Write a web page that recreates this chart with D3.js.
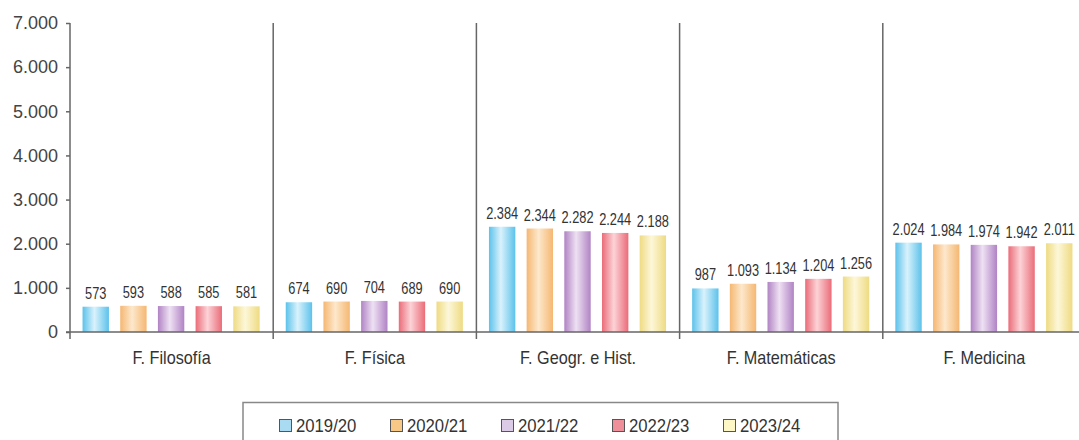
<!DOCTYPE html>
<html>
<head>
<meta charset="utf-8">
<script src="https://cdn.jsdelivr.net/npm/d3@7"></script>
<style>
  body { margin: 0; background: #fff; }
  svg { display: block; }
</style>
</head>
<body>
<div id="chart"></div>
<script>
const categories = ["F. Filosofía", "F. Física", "F. Geogr. e Hist.", "F. Matemáticas", "F. Medicina"];
const years = ["2019/20", "2020/21", "2021/22", "2022/23", "2023/24"];
const s2019 = [573, 674, 2384, 987, 2024];
const s2020 = [593, 690, 2344, 1093, 1984];
const s2021 = [588, 704, 2282, 1134, 1974];
const s2022 = [585, 689, 2244, 1204, 1942];
const s2023 = [581, 690, 2188, 1256, 2011];
const yTicks = [0, 1000, 2000, 3000, 4000, 5000, 6000, 7000];

const series = [s2019, s2020, s2021, s2022, s2023];

const options = { width: 1079, height: 440 };
const plot = { left: 70, right: 1086, top: 23, bottom: 332 };
const font = "Liberation Sans, Arial, sans-serif";

// edge / centre colours for the cylinder look, plus flat legend colours
const palette = [
  { edge: "#5cc2eb", mid: "#d9f2fc", key: "#a9dcf3" },
  { edge: "#f5b772", mid: "#fde8cc", key: "#f8c886" },
  { edge: "#b083c4", mid: "#eee1f3", key: "#dccbe6" },
  { edge: "#ea6c78", mid: "#fcd3d7", key: "#ef8f99" },
  { edge: "#eedb82", mid: "#fdf7d9", key: "#fdf7c6" }
];

const numFmt = d3.formatLocale({ decimal: ",", thousands: ".", grouping: [3] }).format(",");

const svg = d3.select("#chart").append("svg")
  .attr("width", options.width)
  .attr("height", options.height);

const defs = svg.append("defs");
palette.forEach((p, i) => {
  const g = defs.append("linearGradient").attr("id", "grad" + i)
    .attr("x1", "0%").attr("x2", "100%").attr("y1", "0%").attr("y2", "0%");
  g.append("stop").attr("offset", "0%").attr("stop-color", p.edge);
  g.append("stop").attr("offset", "45%").attr("stop-color", p.mid);
  g.append("stop").attr("offset", "100%").attr("stop-color", p.edge);
});

const y = d3.scaleLinear().domain([0, 7000]).range([plot.bottom, plot.top]);

const x0 = d3.scaleBand().domain(categories).range([plot.left, plot.right]);

const x1 = d3.scaleBand().domain(years)
  .range([2, x0.bandwidth() - 3])
  .paddingInner(0.3)
  .paddingOuter(0.28);

// y axis
const yAxis = svg.append("g")
  .attr("transform", `translate(${plot.left},0)`)
  .call(d3.axisLeft(y).tickValues(yTicks).tickSize(4).tickPadding(8)
    .tickFormat(d => d === 0 ? "0" : numFmt(d)));
yAxis.select(".domain").remove();
yAxis.selectAll(".tick line").attr("stroke", "#666").attr("stroke-width", 1.5);
yAxis.selectAll(".tick text")
  .attr("fill", "#444")
  .style("font-family", font)
  .style("font-size", "18px");

// group dividers (including y axis line)
svg.append("g").selectAll("line")
  .data(categories.map(c => x0(c)))
  .join("line")
  .attr("x1", d => d).attr("x2", d => d)
  .attr("y1", plot.top).attr("y2", plot.bottom + 7)
  .attr("stroke", "#666")
  .attr("stroke-width", 1.5);

// bars
const groups = svg.append("g").selectAll("g")
  .data(categories)
  .join("g")
  .attr("transform", d => `translate(${x0(d)},0)`);

const cells = (c, ci) => years.map((yr, si) => ({ yr, si, v: series[si][ci] }));

groups.selectAll("rect")
  .data(cells)
  .join("rect")
  .attr("x", d => x1(d.yr))
  .attr("y", d => y(d.v))
  .attr("width", x1.bandwidth())
  .attr("height", d => y(0) - y(d.v))
  .attr("fill", d => `url(#grad${d.si})`);

// narrow-looking labels: regular sans squeezed horizontally
groups.selectAll("text.val")
  .data(cells)
  .join("text")
  .attr("class", "val")
  .attr("transform", d => `translate(${x1(d.yr) + x1.bandwidth() / 2},${y(d.v) - 8}) scale(0.8,1)`)
  .attr("text-anchor", "middle")
  .attr("fill", "#333")
  .style("font-family", font)
  .style("font-size", "16px")
  .text(d => numFmt(d.v));

// x axis line
svg.append("line")
  .attr("x1", plot.left - 4).attr("x2", options.width)
  .attr("y1", y(0)).attr("y2", y(0))
  .attr("stroke", "#666")
  .attr("stroke-width", 1.5);

// category labels
svg.append("g").selectAll("text")
  .data(categories)
  .join("text")
  .attr("transform", d => `translate(${x0(d) + x0.bandwidth() / 2},364) scale(0.9,1)`)
  .attr("text-anchor", "middle")
  .attr("fill", "#333")
  .style("font-family", font)
  .style("font-size", "18px")
  .text(d => d);

// legend
const legend = svg.append("g");
legend.append("rect")
  .attr("x", 243).attr("y", 402.5)
  .attr("width", 595).attr("height", 50)
  .attr("fill", "none")
  .attr("stroke", "#888")
  .attr("stroke-width", 1.5);

const legendX = d3.scalePoint().domain(years).range([279, 723]);
const items = legend.selectAll("g.item")
  .data(years)
  .join("g")
  .attr("class", "item")
  .attr("transform", d => `translate(${legendX(d)},419)`);

items.append("rect")
  .attr("x", 0.5).attr("y", 0.5)
  .attr("width", 12).attr("height", 12)
  .attr("fill", (d, i) => palette[i].key)
  .attr("stroke", "#555")
  .attr("stroke-width", 1);

items.append("text")
  .attr("transform", "translate(17,13) scale(0.88,1)")
  .attr("fill", "#333")
  .style("font-family", font)
  .style("font-size", "19px")
  .text(d => d);
</script>
</body>
</html>
